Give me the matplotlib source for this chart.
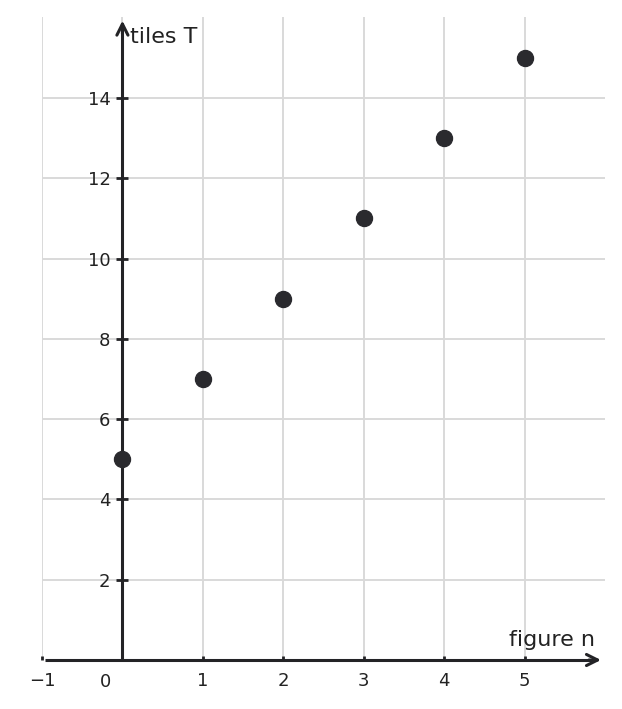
import matplotlib
matplotlib.use("Agg")
import matplotlib.pyplot as plt

# data
n_values = [0, 1, 2, 3, 4, 5]
tiles = [5, 7, 9, 11, 13, 15]
x_ticks = [-1, 1, 2, 3, 4, 5]
x_tick_labels = ["\u22121", "1", "2", "3", "4", "5"]
y_ticks = [2, 4, 6, 8, 10, 12, 14]
y_tick_labels = ["2", "4", "6", "8", "10", "12", "14"]
x_label = "figure n"
y_label = "tiles T"

dark = "#232326"
grid_c = "#d9d9d9"

fig = plt.figure(figsize=(6.22, 7.09), dpi=100)
ax = fig.add_axes([42/622, 49/709, (605-42)/622, (660-17)/709])
ax.set_xlim(-1, 6.0)
ax.set_ylim(0, 16.02)

# grid
for xv in [-1, 0, 1, 2, 3, 4, 5]:
    ax.axvline(xv, color=grid_c, lw=1.4, zorder=0)
for yv in y_ticks:
    ax.axhline(yv, color=grid_c, lw=1.4, zorder=0)

for s in ["top", "right"]:
    ax.spines[s].set_visible(False)
ax.spines["left"].set_position(("data", 0))
ax.spines["bottom"].set_position(("data", 0))
ax.spines["left"].set_bounds(0, 15.85)
ax.spines["bottom"].set_bounds(-0.96, 5.88)
for s in ["left", "bottom"]:
    ax.spines[s].set_color(dark)
    ax.spines[s].set_linewidth(2.2)
    ax.spines[s].set_capstyle("butt")

# arrowheads
ax.annotate("", xy=(5.95, 0), xytext=(5.8, 0),
            arrowprops=dict(arrowstyle="->", lw=2.2, color=dark,
                            mutation_scale=20, shrinkA=0, shrinkB=0))
ax.annotate("", xy=(0, 15.93), xytext=(0, 15.6),
            arrowprops=dict(arrowstyle="->", lw=2.2, color=dark,
                            mutation_scale=20, shrinkA=0, shrinkB=0))

ax.set_xticks(x_ticks)
ax.set_xticklabels(x_tick_labels)
ax.set_yticks(y_ticks)
ax.set_yticklabels(y_tick_labels)
ax.tick_params(axis="x", direction="in", length=3, width=2, colors=dark,
               labelsize=13, pad=9, labelcolor="#222222")
ax.tick_params(axis="y", direction="inout", length=8, width=2, colors=dark,
               labelsize=13, pad=4.5, labelcolor="#222222")
ax.text(-0.21, -0.33, "0", transform=ax.transData, fontsize=13,
        color="#222222", ha="center", va="top")

ax.plot(n_values, tiles, "o", color="#2a2a2e", markersize=11.5, zorder=5,
        clip_on=False)

ax.text(0.1, 15.52, y_label, fontsize=16, color="#222222", ha="left",
        va="center")
ax.text(5.87, 0.5, x_label, fontsize=16, color="#222222", ha="right",
        va="center")

fig.savefig("out.png", dpi=100)
